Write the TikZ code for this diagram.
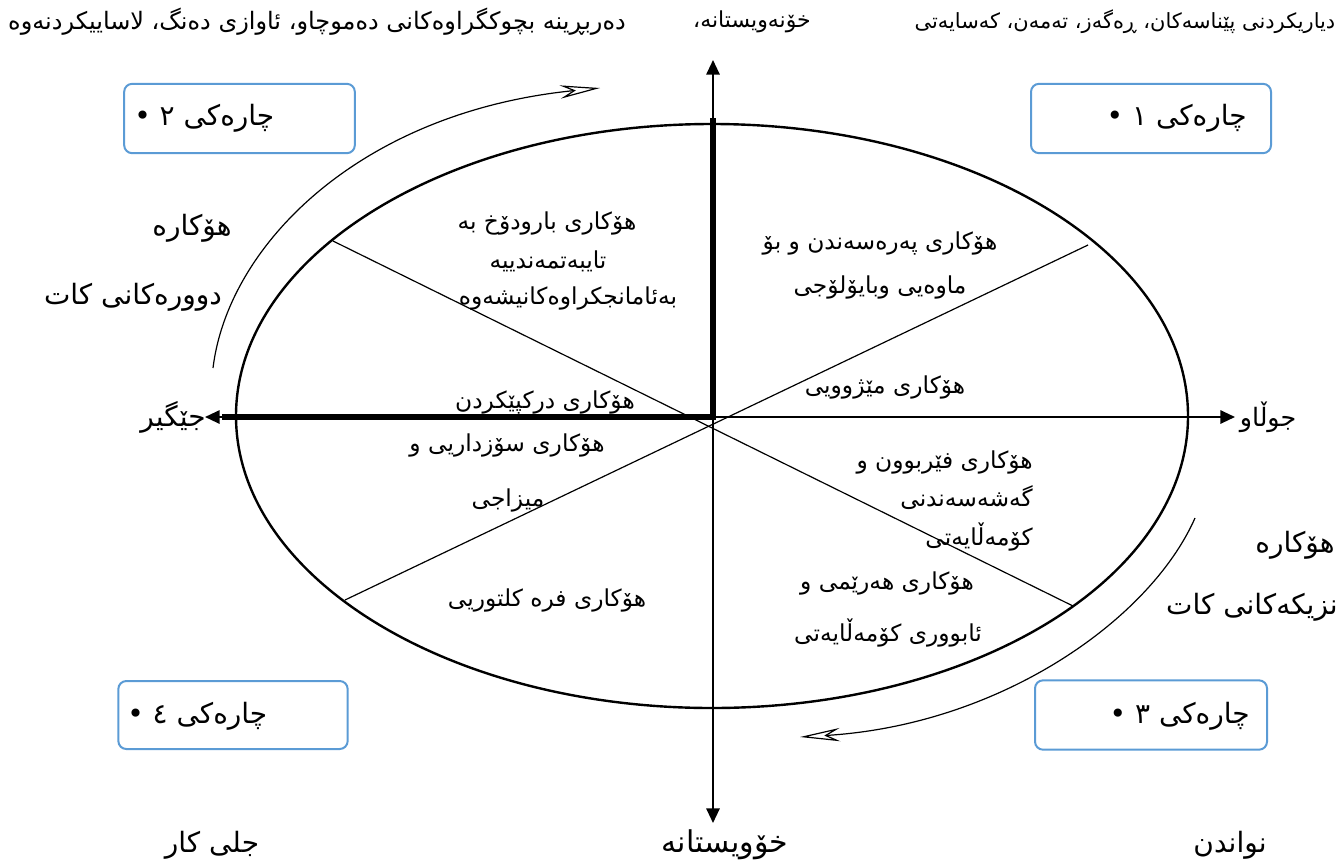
\documentclass[tikz,border=0pt]{standalone}
\usepackage{fontspec}
\usetikzlibrary{arrows.meta}
\TeXXeTstate=1
\newfontfamily\kf[Script=Arabic]{DejaVu Sans}
\newcommand\rl[1]{\beginR#1\endR}
\definecolor{boxblue}{RGB}{91,155,213}
\begin{document}
\begin{tikzpicture}[x=0.75pt,y=-0.75pt,
  txt/.style={font=\kf\fontsize{17.5}{20}\selectfont, inner sep=0pt},
  big/.style={font=\kf\fontsize{21}{24}\selectfont, inner sep=0pt},
  toptxt/.style={font=\kf\fontsize{16.5}{19}\selectfont, inner sep=0pt},
  quad/.style={draw=boxblue, line width=1.5pt, rounded corners=6pt, inner sep=0pt},
  axis/.style={line width=1.5pt, -{Triangle[length=11pt,width=10pt]}},
  heavy/.style={line width=4pt},
  divider/.style={line width=0.9pt},
  sweep/.style={line width=0.9pt, -{Stealth[open,length=30pt,width=10pt]}},
]
\useasboundingbox (0,0) rectangle (1341,864);
% ellipse
\draw[line width=1.8pt] (712,416) ellipse [x radius=357pt, y radius=219pt];
% dividers
\coordinate (d1a) at (333,241); \coordinate (d1b) at (1073,606);
\coordinate (d2a) at (1088,245); \coordinate (d2b) at (345,600);
\draw[divider] (d1a) -- (d1b);
\draw[divider] (d2a) -- (d2b);
% axes
\coordinate (O) at (713,417);
\coordinate (E) at (1235,417);
\coordinate (W) at (205,417);
\coordinate (N) at (713,60);
\coordinate (S) at (713,823);
\coordinate (Wh) at (222,417);
\coordinate (Nh) at (713,118);
\draw[axis] (O) -- (E);
\draw[axis] (O) -- (W);
\draw[axis] (O) -- (N);
\draw[axis] (O) -- (S);
\draw[heavy] (Wh) -- (O) -- (Nh);
% sweeping arrows
\coordinate (a1s) at (213,368); \coordinate (a1e) at (600,88);
\draw[sweep] (a1s) .. controls (228,245) and (360,112) .. (a1e);
\coordinate (a2s) at (1195,518); \coordinate (a2e) at (800,737);
\draw[sweep] (a2s) .. controls (1150,620) and (1000,725) .. (a2e);
% boxes
\node[quad, minimum width=180pt, minimum height=52pt] (b1) at (1151,118.5) {};
\node[quad, minimum width=173pt, minimum height=52pt] (b2) at (239.5,118.5) {};
\node[quad, minimum width=174pt, minimum height=52pt] (b3) at (1151,715) {};
\node[quad, minimum width=172pt, minimum height=51pt] (b4) at (233,715) {};
\node[big, anchor=east] (t1) at (1247,118) {\rl{چارەکی ١ •}};
\node[big, anchor=west] (t2) at (134,118) {\rl{چارەکی ٢ •}};
\node[big, anchor=east] (t3) at (1250,716) {\rl{چارەکی ٣ •}};
\node[big, anchor=west] (t4) at (127,716) {\rl{چارەکی ٤ •}};
% top texts
\node[toptxt, font=\kf\fontsize{18}{21}\selectfont] (tl) at (317,22) {\rl{دەربڕینە بچوکگراوەکانی دەموچاو، ئاوازی دەنگ، لاساییکردنەوە}};
\node[toptxt] (tm) at (752,22) {\rl{خۆنەویستانە،}};
\node[toptxt, font=\kf\fontsize{15.7}{19}\selectfont] (tr) at (1125,22) {\rl{دیاریکردنی پێناسەکان، ڕەگەز، تەمەن، کەسایەتی}};
% axis labels
\node[big, font=\kf\fontsize{19}{22}\selectfont] (lE) at (1268,417) {\rl{جوڵاو}};
\node[big] (lW) at (173,417) {\rl{جێگیر}};
\node[big, font=\kf\fontsize{22.5}{26}\selectfont] (lS) at (725,845) {\rl{خۆویستانە}};
\node[big] (lSW) at (212,845) {\rl{جلی کار}};
\node[big] (lSE) at (1230,845) {\rl{نواندن}};
% side labels
\node[big] (far1) at (192,228) {\rl{هۆکارە}};
\node[big] (far2) at (133,297) {\rl{دوورەکانی کات}};
\node[big] (near1) at (1295,545) {\rl{هۆکارە}};
\node[big] (near2) at (1252,607) {\rl{نزیکەکانی کات}};
% inner texts
\node[txt] (q2a) at (547,223) {\rl{هۆکاری بارودۆخ بە}};
\node[txt] (q2b) at (548,261) {\rl{تایبەتمەندییە}};
\node[txt] (q2c) at (568,298) {\rl{بەئامانجکراوەکانیشەوە}};
\node[txt] (q1a) at (880,243) {\rl{هۆکاری پەرەسەندن و بۆ}};
\node[txt] (q1b) at (880,287) {\rl{ماوەیی وبایۆلۆجی}};
\node[txt] (hist) at (885,387) {\rl{هۆکاری مێژوویی}};
\node[txt] (perc) at (545,402) {\rl{هۆکاری درکپێکردن}};
\node[txt] (emo1) at (507,445) {\rl{هۆکاری سۆزداریی و}};
\node[txt] (emo2) at (508,500) {\rl{میزاجی}};
\node[txt, anchor=east] (lrn1) at (1033,462) {\rl{هۆکاری فێربوون و}};
\node[txt, anchor=east] (lrn2) at (1033,498) {\rl{گەشەسەندنی}};
\node[txt, anchor=east] (lrn3) at (1033,537) {\rl{کۆمەڵایەتی}};
\node[txt] (reg1) at (887,583) {\rl{هۆکاری هەرێمی و}};
\node[txt] (reg2) at (888,633) {\rl{ئابووری کۆمەڵایەتی}};
\node[txt] (cult) at (547,600) {\rl{هۆکاری فرە کلتوریی}};
\end{tikzpicture}
\end{document}
